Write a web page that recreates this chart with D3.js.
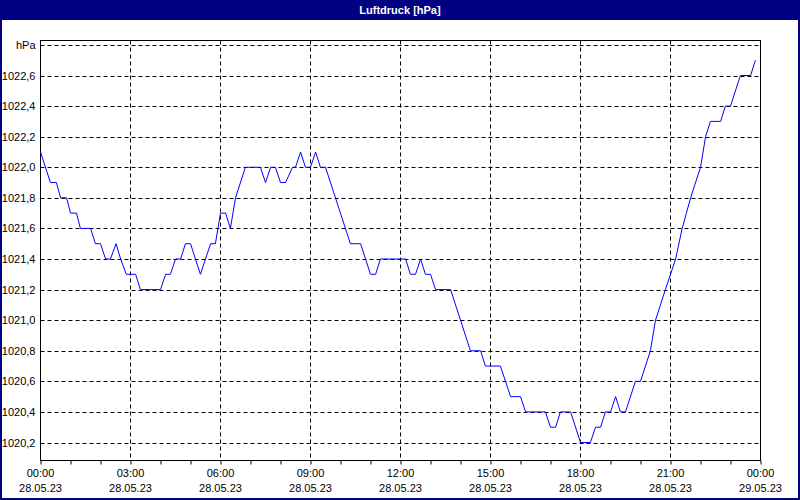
<!DOCTYPE html>
<html><head><meta charset="utf-8">
<script src="https://cdn.jsdelivr.net/npm/d3@7"></script>
<style>body{margin:0;background:#fff}svg{display:block}text{font-family:"Liberation Sans",Arial,sans-serif;font-size:11px}</style>
</head><body><svg id="c" width="800" height="500"></svg>
<script>
const title = "Luftdruck [hPa]";
const hours = [0,0.33,0.53,0.67,0.87,1.0,1.2,1.33,1.67,1.83,2.0,2.17,2.33,2.52,2.67,2.86,3.17,3.33,4.0,4.17,4.33,4.5,4.67,4.83,5.0,5.33,5.67,5.83,6.0,6.17,6.33,6.5,6.83,7.33,7.5,7.67,7.83,8.0,8.17,8.4,8.5,8.67,8.83,9.0,9.17,9.33,9.5,10.33,10.67,11.0,11.17,11.33,12.17,12.33,12.5,12.67,12.83,13.0,13.17,13.67,14.33,14.67,14.83,15.33,15.67,16.0,16.17,16.83,17.0,17.17,17.33,17.67,18.0,18.33,18.5,18.67,18.83,19.0,19.17,19.33,19.5,19.83,20.0,20.33,20.5,20.83,21.17,21.39,21.53,21.67,22.0,22.17,22.33,22.67,22.83,23.0,23.33,23.67,23.83];
const values = [1022.1,1021.9,1021.9,1021.8,1021.8,1021.7,1021.7,1021.6,1021.6,1021.5,1021.5,1021.4,1021.4,1021.5,1021.4,1021.3,1021.3,1021.2,1021.2,1021.3,1021.3,1021.4,1021.4,1021.5,1021.5,1021.3,1021.5,1021.5,1021.7,1021.7,1021.6,1021.8,1022.0,1022.0,1021.9,1022.0,1022.0,1021.9,1021.9,1022.0,1022.0,1022.1,1022.0,1022.0,1022.1,1022.0,1022.0,1021.5,1021.5,1021.3,1021.3,1021.4,1021.4,1021.3,1021.3,1021.4,1021.3,1021.3,1021.2,1021.2,1020.8,1020.8,1020.7,1020.7,1020.5,1020.5,1020.4,1020.4,1020.3,1020.3,1020.4,1020.4,1020.2,1020.2,1020.3,1020.3,1020.4,1020.4,1020.5,1020.4,1020.4,1020.6,1020.6,1020.8,1021.0,1021.2,1021.4,1021.6,1021.7,1021.8,1022.0,1022.2,1022.3,1022.3,1022.4,1022.4,1022.6,1022.6,1022.7];
const yTicks = [1020.2,1020.4,1020.6,1020.8,1021.0,1021.2,1021.4,1021.6,1021.8,1022.0,1022.2,1022.4,1022.6];
const xTickLabels = ["00:00","03:00","06:00","09:00","12:00","15:00","18:00","21:00","00:00"];
const xDateLabels = ["28.05.23","28.05.23","28.05.23","28.05.23","28.05.23","28.05.23","28.05.23","28.05.23","29.05.23"];
const unit = "hPa";

const svg = d3.select("#c");
const L=40.5,R=760.5,T=40.5,B=460.5;
const x = d3.scaleLinear().domain([0,24]).range([L,R]);
const y = d3.scaleLinear().domain([1020.2,1022.6]).range([442.5,75.5]);
const fmt = v => v.toFixed(1).replace(".",",");

// window frame
svg.append("rect").attr("x",1).attr("y",1).attr("width",798).attr("height",498).attr("fill","#fff").attr("stroke","#000080").attr("stroke-width",2);
svg.append("rect").attr("x",0).attr("y",0).attr("width",800).attr("height",20).attr("fill","#000080");
svg.append("text").attr("x",400).attr("y",14).attr("text-anchor","middle").attr("fill","#fff").attr("font-weight","bold").text(title);

// grid
const g = svg.append("g");
const hGrid = yTicks.concat([1022.8]);
g.selectAll(".hg").data(hGrid).join("line").attr("x1",L).attr("x2",R).attr("y1",d=>Math.round(y(d))+0.5).attr("y2",d=>Math.round(y(d))+0.5).attr("stroke","#000").attr("stroke-dasharray","4,3");
g.selectAll(".vg").data(d3.range(3,24,3)).join("line").attr("y1",T).attr("y2",B).attr("x1",d=>x(d)).attr("x2",d=>x(d)).attr("stroke","#000").attr("stroke-dasharray","4,3");

// y labels
g.selectAll(".yl").data(yTicks).join("text").attr("x",L-5).attr("y",d=>Math.round(y(d))+4).attr("text-anchor","end").text(fmt);
g.append("text").attr("x",L-5).attr("y",Math.round(y(1022.8))+4).attr("text-anchor","end").text(unit);

// x ticks
const xa = d3.axisBottom(x).tickValues(d3.range(0,25,1)).tickSize(4).tickFormat("");
svg.append("g").attr("transform",`translate(0,${B})`).call(xa).call(s=>s.select(".domain").remove()).selectAll("line").attr("stroke","#000");
g.selectAll(".xl").data(xTickLabels).join("text").attr("x",(d,i)=>x(i*3)).attr("y",477).attr("text-anchor","middle").text(d=>d);
g.selectAll(".xd").data(xDateLabels).join("text").attr("x",(d,i)=>x(i*3)).attr("y",492).attr("text-anchor","middle").text(d=>d);

// plot border
svg.append("rect").attr("x",L).attr("y",T).attr("width",R-L).attr("height",B-T).attr("fill","none").attr("stroke","#000");

// line
const data = hours.map((h,i)=>[h,values[i]]);
svg.append("path").datum(data).attr("fill","none").attr("stroke","#0000ff").attr("stroke-width",1)
  .attr("d",d3.line().x(d=>x(d[0])).y(d=>y(d[1])));
</script></body></html>
